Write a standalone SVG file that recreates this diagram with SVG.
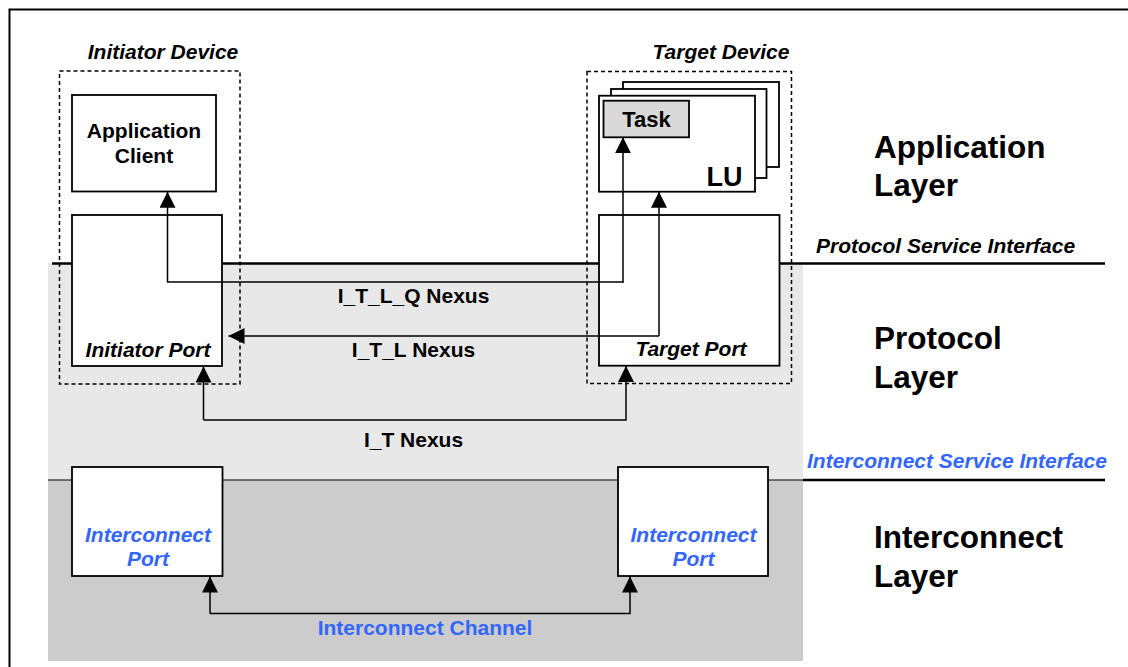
<svg xmlns="http://www.w3.org/2000/svg" width="1128" height="667" viewBox="0 0 1128 667">
<defs>
<style>
.t{font-family:"Liberation Sans",Arial,sans-serif;font-weight:bold;fill:#000}
.i{font-style:italic}
.m{font-size:21px}
.big{font-size:31.5px}
.blue{fill:#3366FF}
.box{fill:#fff;stroke:#000;stroke-width:1.8}
.dash{fill:none;stroke:#000;stroke-width:1.5;stroke-dasharray:4 3}
.conn{fill:none;stroke:#000;stroke-width:1.5}
</style>
<marker id="ah" viewBox="0 0 16 16" refX="16" refY="8" markerWidth="16" markerHeight="16" markerUnits="userSpaceOnUse" orient="auto">
<path d="M0,0 L16,8 L0,16 Z" fill="#000"/>
</marker>
</defs>
<rect x="0" y="0" width="1128" height="667" fill="#fff"/>
<rect x="9.5" y="9.5" width="1200" height="700" fill="none" stroke="#000" stroke-width="2"/>
<g id="layers">
<rect x="48" y="263" width="755" height="217" fill="#e8e8e8"/>
<rect x="48" y="480" width="755" height="181" fill="#cccccc"/>
<line x1="52" y1="263.5" x2="1105" y2="263.5" stroke="#000" stroke-width="2.5"/>
<line x1="48" y1="480" x2="803" y2="480" stroke="#000" stroke-width="1.2"/>
<line x1="803" y1="480" x2="1105" y2="480" stroke="#000" stroke-width="2.5"/>
<text class="t i m" x="816" y="252.7">Protocol Service Interface</text>
<text class="t i m blue" x="807" y="467.7">Interconnect Service Interface</text>
<text class="t big" x="874" y="158.3">Application</text>
<text class="t big" x="874" y="195.7">Layer</text>
<text class="t big" x="874" y="349.3">Protocol</text>
<text class="t big" x="874" y="388">Layer</text>
<text class="t big" x="874" y="548">Interconnect</text>
<text class="t big" x="874" y="586.7">Layer</text>
</g>
<g id="initiator-device">
<rect class="dash" x="59.5" y="71" width="180.5" height="313"/>
<text class="t i m" x="163" y="59" text-anchor="middle">Initiator Device</text>
</g>
<g id="target-device">
<rect class="dash" x="587" y="71.5" width="204.5" height="312"/>
<text class="t i m" x="721" y="59" text-anchor="middle">Target Device</text>
</g>
<g id="application-client">
<rect class="box" x="72" y="95" width="144" height="96.5"/>
<text class="t m" x="144" y="137.7" text-anchor="middle">Application</text>
<text class="t m" x="144" y="162.7" text-anchor="middle">Client</text>
</g>
<g id="initiator-port">
<rect class="box" x="72" y="215" width="150" height="151"/>
<text class="t i m" x="148" y="356.7" text-anchor="middle">Initiator Port</text>
</g>
<g id="lu">
<rect class="box" x="623" y="82" width="156" height="85"/>
<rect class="box" x="611" y="89" width="155.5" height="89"/>
<rect class="box" x="599" y="95.7" width="156" height="96"/>
<text class="t" x="742.5" y="186" text-anchor="end" font-size="27">LU</text>
</g>
<g id="task">
<rect x="603.5" y="100.7" width="85.5" height="36.6" fill="#d9d9d9" stroke="#000" stroke-width="1.8"/>
<text class="t" x="646.5" y="126.7" text-anchor="middle" font-size="22">Task</text>
</g>
<g id="target-port">
<rect class="box" x="599" y="215" width="180.5" height="150.7"/>
<text class="t i m" x="691" y="356" text-anchor="middle">Target Port</text>
</g>
<g id="interconnect-port-initiator">
<rect class="box" x="72" y="467" width="150.5" height="109"/>
<text class="t i m blue" x="148" y="541.7" text-anchor="middle">Interconnect</text>
<text class="t i m blue" x="148" y="566" text-anchor="middle">Port</text>
</g>
<g id="interconnect-port-target">
<rect class="box" x="618" y="467" width="150" height="109"/>
<text class="t i m blue" x="693.5" y="541.7" text-anchor="middle">Interconnect</text>
<text class="t i m blue" x="693.5" y="566" text-anchor="middle">Port</text>
</g>
<g id="connectors">
<polyline class="conn" points="623,283 623,137.3" marker-end="url(#ah)"/>
<polyline class="conn" points="623,282 167.5,282 167.5,191.7" marker-end="url(#ah)"/>
<polyline class="conn" points="659,336 659,191.7" marker-end="url(#ah)"/>
<polyline class="conn" points="659,336 228.5,336" marker-end="url(#ah)"/>
<polyline class="conn" points="203.5,420 203.5,366.5" marker-end="url(#ah)"/>
<polyline class="conn" points="203.5,420 626,420 626,366" marker-end="url(#ah)"/>
<polyline class="conn" points="210,613.5 210,576.5" marker-end="url(#ah)"/>
<polyline class="conn" points="210,613.5 630,613.5 630,576.5" marker-end="url(#ah)"/>
<text class="t m" x="413.5" y="302.7" text-anchor="middle">I_T_L_Q Nexus</text>
<text class="t m" x="413.5" y="357.3" text-anchor="middle">I_T_L Nexus</text>
<text class="t m" x="413.5" y="447.3" text-anchor="middle">I_T Nexus</text>
<text class="t m blue" x="425" y="635" text-anchor="middle">Interconnect Channel</text>
</g>
</svg>
